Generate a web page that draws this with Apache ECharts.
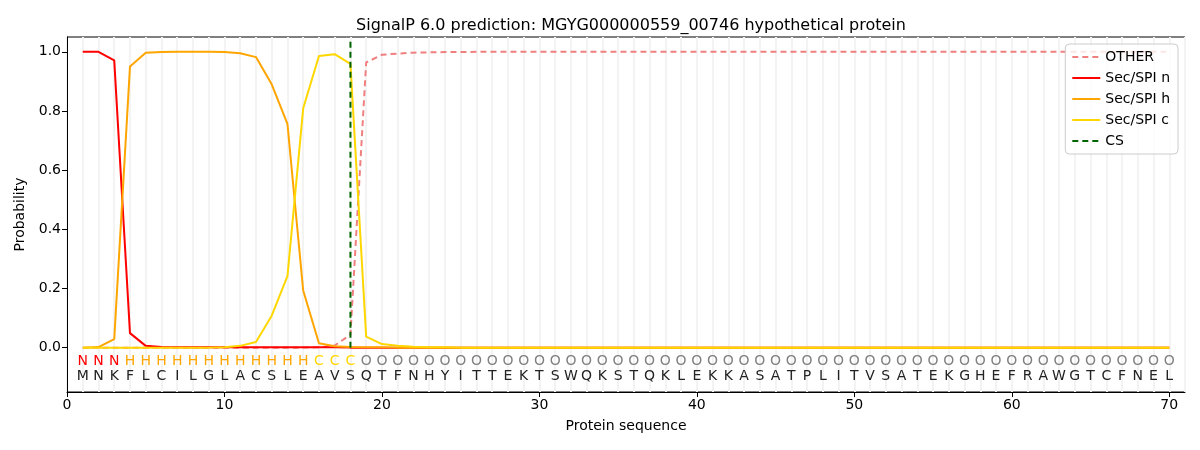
<!DOCTYPE html>
<html>
<head>
<meta charset="utf-8">
<script src="https://cdn.jsdelivr.net/npm/echarts@6/dist/echarts.min.js"></script>
<style>html,body{margin:0;padding:0;background:#fff;}#c{width:1200px;height:450px;}</style>
</head>
<body>
<div id="c"></div>
<script>
const titleText = 'SignalP 6.0 prediction: MGYG000000559_00746 hypothetical protein';
const residues = 'MNKFLCILGLACSLEAVSQTFNHYITTEKTSWQKSTQKLEKKASATPLITVSATEKGHEFRAWGTCFNEL'.split('');
const regionLabels = 'NNNHHHHHHHHHHHHCCCOOOOOOOOOOOOOOOOOOOOOOOOOOOOOOOOOOOOOOOOOOOOOOOOOOOO'.split('');
const positions = residues.map((_, i) => i + 1);
const csPosition = 18;
const xTicks = [0, 10, 20, 30, 40, 50, 60, 70];
const yTicks = [0, 0.2, 0.4, 0.6, 0.8, 1.0];

const otherProb = [
  0,0,0,0,0,0,0,0,0,0,
  0,0,0,0,0,0.001,0.007,0.044,0.964,0.99,
  0.994,0.997,0.998,0.999,0.999,1,1,1,1,1,
  1,1,1,1,1,1,1,1,1,1,
  1,1,1,1,1,1,1,1,1,1,
  1,1,1,1,1,1,1,1,1,1,
  1,1,1,1,1,1,1,1,1,1
];
const secN = [
  1,1,0.971,0.049,0.006,0.002,0.001,0.001,0.001,0.001,
  0.001,0.001,0.001,0.001,0.001,0.001,0.001,0,0,0,
  0,0,0,0,0,0,0,0,0,0,
  0,0,0,0,0,0,0,0,0,0,
  0,0,0,0,0,0,0,0,0,0,
  0,0,0,0,0,0,0,0,0,0,
  0,0,0,0,0,0,0,0,0,0
];
const secH = [
  0,0.002,0.029,0.95,0.997,0.999,1,1,1,0.999,
  0.995,0.982,0.89,0.756,0.193,0.015,0.005,0.002,0.001,0.001,
  0,0,0,0,0,0,0,0,0,0,
  0,0,0,0,0,0,0,0,0,0,
  0,0,0,0,0,0,0,0,0,0,
  0,0,0,0,0,0,0,0,0,0,
  0,0,0,0,0,0,0,0,0,0
];
const secC = [
  0,0,0,0,0,0,0,0,0,0.001,
  0.006,0.019,0.108,0.242,0.809,0.986,0.992,0.959,0.037,0.012,
  0.006,0.003,0.001,0.001,0,0,0,0,0,0,
  0,0,0,0,0,0,0,0,0,0,
  0,0,0,0,0,0,0,0,0,0,
  0,0,0,0,0,0,0,0,0,0,
  0,0,0,0,0,0,0,0,0,0
];

const FONT = 'DejaVu Sans';
const regionColor = { N: '#ff0000', H: '#ffa500', C: '#ffd700', O: '#808080' };
const pair = arr => positions.map((p, i) => [p, arr[i]]);

const textSeries = (texts, yVal, colorFn) => ({
  type: 'custom',
  xAxisIndex: 0, yAxisIndex: 0,
  silent: true,
  z: 5,
  data: positions.map((p, i) => [p, yVal, i]),
  renderItem: (params, api) => {
    const i = api.value(2);
    const pt = api.coord([api.value(0), api.value(1)]);
    return {
      type: 'text',
      x: pt[0], y: pt[1],
      style: {
        text: texts[i], fill: colorFn(texts[i]),
        font: '14px "' + FONT + '"', align: 'center', verticalAlign: 'middle'
      }
    };
  }
});

const chart = echarts.init(document.getElementById('c'), null, { renderer: 'canvas' });
chart.setOption({
  animation: false,
  backgroundColor: '#ffffff',
  textStyle: { fontFamily: FONT },
  title: {
    text: titleText,
    left: 626, top: 13, textAlign: 'center',
    textStyle: { fontFamily: FONT, fontSize: 16, fontWeight: 'normal', color: '#000' }
  },
  grid: {
    left: 67, top: 37, width: 1118, height: 355,
    show: true, borderColor: '#000', borderWidth: 1, backgroundColor: 'transparent'
  },
  legend: {
    orient: 'vertical', right: 22, top: 44,
    itemWidth: 28, itemHeight: 12, itemGap: 7,
    padding: [6, 8, 6, 6],
    borderColor: '#cccccc', borderWidth: 1, borderRadius: 4,
    backgroundColor: 'rgba(255,255,255,0.8)',
    itemStyle: { opacity: 0 },
    textStyle: { fontFamily: FONT, fontSize: 14, color: '#000' },
    data: ['OTHER', 'Sec/SPI n', 'Sec/SPI h', 'Sec/SPI c', 'CS']
  },
  xAxis: [
    {
      type: 'value', min: 0, max: 71, interval: 10,
      name: 'Protein sequence', nameLocation: 'middle', nameGap: 27,
      nameTextStyle: { fontFamily: FONT, fontSize: 14, color: '#000' },
      axisLine: { show: true, onZero: false, lineStyle: { color: '#000', width: 1 } },
      axisTick: { show: true, length: 5, lineStyle: { color: '#000' }, customValues: xTicks },
      axisLabel: { fontFamily: FONT, fontSize: 14, color: '#000', margin: 6, customValues: xTicks },
      splitLine: { show: false }
    },
    {
      type: 'value', min: 0, max: 71, interval: 1, position: 'bottom',
      axisLine: { show: false }, axisTick: { show: false }, axisLabel: { show: false },
      splitLine: { show: true, lineStyle: { color: '#f3f3f3', width: 2 } }
    }
  ],
  yAxis: {
    type: 'value', min: -0.15, max: 1.05,
    name: 'Probability', nameLocation: 'middle', nameGap: 40,
    nameTextStyle: { fontFamily: FONT, fontSize: 14, color: '#000' },
    axisLine: { show: true, onZero: false, lineStyle: { color: '#000', width: 1 } },
    axisTick: { show: true, length: 5, lineStyle: { color: '#000' }, customValues: yTicks },
    axisLabel: { fontFamily: FONT, fontSize: 14, color: '#000', margin: 6, customValues: yTicks,
      formatter: v => v.toFixed(1) },
    splitLine: { show: false }
  },
  series: [
    { name: 'OTHER', type: 'line', data: pair(otherProb), showSymbol: false, symbol: 'none',
      lineStyle: { color: '#f08080', width: 2, type: [6, 4] }, itemStyle: { color: '#f08080' }, z: 2 },
    { name: 'Sec/SPI n', type: 'line', data: pair(secN), symbol: 'none',
      lineStyle: { color: '#ff0000', width: 2 }, itemStyle: { color: '#ff0000' }, z: 3 },
    { name: 'Sec/SPI h', type: 'line', data: pair(secH), symbol: 'none',
      lineStyle: { color: '#ffa500', width: 2 }, itemStyle: { color: '#ffa500' }, z: 4 },
    { name: 'Sec/SPI c', type: 'line', data: pair(secC), symbol: 'none',
      lineStyle: { color: '#ffd700', width: 2 }, itemStyle: { color: '#ffd700' }, z: 5 },
    { name: 'CS', type: 'line', data: [[csPosition, 0], [csPosition, 1.035]], symbol: 'none',
      lineStyle: { color: '#006400', width: 2, type: [6, 4] }, itemStyle: { color: '#006400' }, z: 6 },
    textSeries(regionLabels, -0.048, t => regionColor[t]),
    textSeries(residues, -0.098, () => '#222222')
  ]
});
</script>
</body>
</html>
